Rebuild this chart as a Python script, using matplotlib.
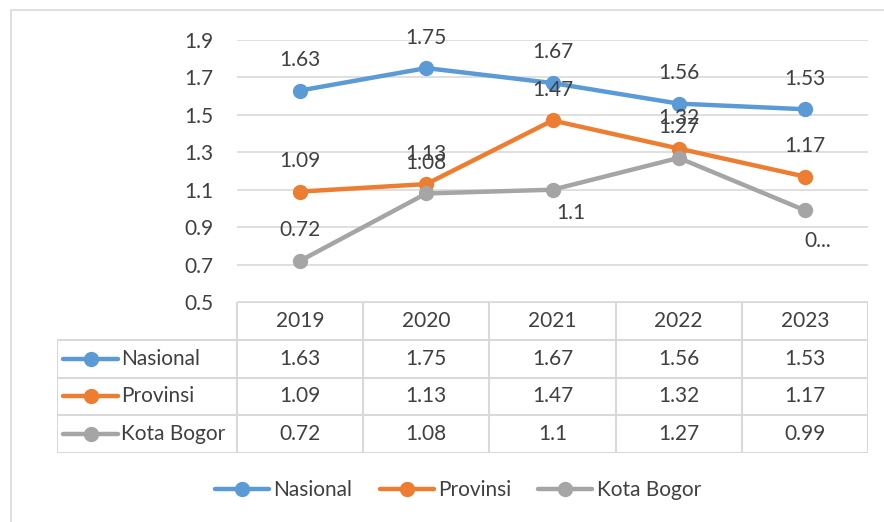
import matplotlib.pyplot as plt
from matplotlib.patches import Rectangle
from matplotlib.lines import Line2D

plt.rcParams['font.family'] = ['Lato', 'DejaVu Sans']

# data
years = ["2019", "2020", "2021", "2022", "2023"]
series_names = ["Nasional", "Provinsi", "Kota Bogor"]
nasional = [1.63, 1.75, 1.67, 1.56, 1.53]
provinsi = [1.09, 1.13, 1.47, 1.32, 1.17]
kota_bogor = [0.72, 1.08, 1.1, 1.27, 0.99]
colors = ["#5B9BD5", "#ED7D31", "#A5A5A5"]
values = [nasional, provinsi, kota_bogor]

# label text shown on chart (last one clipped in the original)
point_labels = [
    [str(v) for v in nasional],
    [str(v) for v in provinsi],
    ["0.72", "1.08", "1.1", "1.27", "0..."],
]
# offsets of the labels in points (Excel placed them above, a couple elsewhere)
label_offsets = [
    [(0, 22)] * 5,
    [(0, 22)] * 5,
    [(0, 22), (0, 22), (13, -17), (0, 22), (9, -22)],
]

W, H = 884, 522
txt = "#404040"
grid = "#D9D9D9"
fs = 15

fig = plt.figure(figsize=(W / 100, H / 100), dpi=100)

def fx(x):
    return x / W

def fy(y):
    return 1 - y / H

# outer chart border
fig.patches.append(Rectangle((fx(11), fy(530)), fx(890) - fx(11), fy(10) - fy(530),
                             transform=fig.transFigure, fill=False,
                             edgecolor=grid, linewidth=1.2))

ax = fig.add_axes([fx(237), fy(302), (868 - 237) / W, (302 - 40) / H])
x = list(range(len(years)))
for name, vals, col, labs, offs in zip(series_names, values, colors, point_labels, label_offsets):
    ax.plot(x, vals, color=col, linewidth=3.2, marker="o", markersize=10,
            solid_capstyle="round", label=name, zorder=3)
    for xi, v, lab, off in zip(x, vals, labs, offs):
        ax.annotate(lab, (xi, v), xytext=off, textcoords="offset points",
                    ha="center", va="center", fontsize=fs, color=txt, zorder=4)

ax.set_xlim(-0.5, 4.5)
ax.set_ylim(0.5, 1.9)
ax.set_yticks([0.5, 0.7, 0.9, 1.1, 1.3, 1.5, 1.7, 1.9])
ax.set_yticklabels(["0.5", "0.7", "0.9", "1.1", "1.3", "1.5", "1.7", "1.9"])
ax.set_xticks([])
ax.tick_params(axis="y", length=0, pad=17, labelsize=fs, labelcolor=txt)
ax.grid(axis="y", color=grid, linewidth=1.2)
ax.set_axisbelow(True)
for s in ax.spines.values():
    s.set_visible(False)

# data table below the plot
col_px = (868 - 237) / 5
lab_w = (237 - 57) / col_px
left = -0.5 - lab_w
tax = fig.add_axes([fx(57), fy(453), (868 - 57) / W, (453 - 302) / H])
tax.set_xlim(left, 4.5)
tax.set_ylim(4, 0)
tax.axis("off")

lw = 1.5
tax.plot([-0.5, 4.5], [0, 0], color=grid, lw=lw)
for r in range(1, 5):
    tax.plot([left, 4.5], [r, r], color=grid, lw=lw)
tax.plot([left, left], [1, 4], color=grid, lw=lw)
for k in range(6):
    tax.plot([-0.5 + k, -0.5 + k], [0, 4], color=grid, lw=lw)

for i, yr in enumerate(years):
    tax.text(i, 0.5, yr, ha="center", va="center", fontsize=fs, color=txt)
for r, (name, vals, col) in enumerate(zip(series_names, values, colors), start=1):
    for i, v in enumerate(vals):
        tax.text(i, r + 0.5, str(v), ha="center", va="center", fontsize=fs, color=txt)
    x0 = left + 6 / col_px
    x1 = left + 61 / col_px
    tax.plot([x0, x1], [r + 0.5, r + 0.5], color=col, lw=3.2, solid_capstyle="round")
    tax.plot([(x0 + x1) / 2], [r + 0.5], color=col, marker="o", markersize=10)
    tax.text(left + 64 / col_px, r + 0.5, name, ha="left", va="center", fontsize=fs, color=txt)

# legend at the bottom
handles = [Line2D([], [], color=c, lw=3.2, marker="o", markersize=10, solid_capstyle="round")
           for c in colors]
fig.legend(handles, series_names, loc="center", bbox_to_anchor=(fx(458), fy(490)),
           ncol=3, frameon=False, fontsize=fs, labelcolor=txt,
           handlelength=2.6, handletextpad=0.2, columnspacing=1.3)

fig.savefig("out.png", dpi=100)
